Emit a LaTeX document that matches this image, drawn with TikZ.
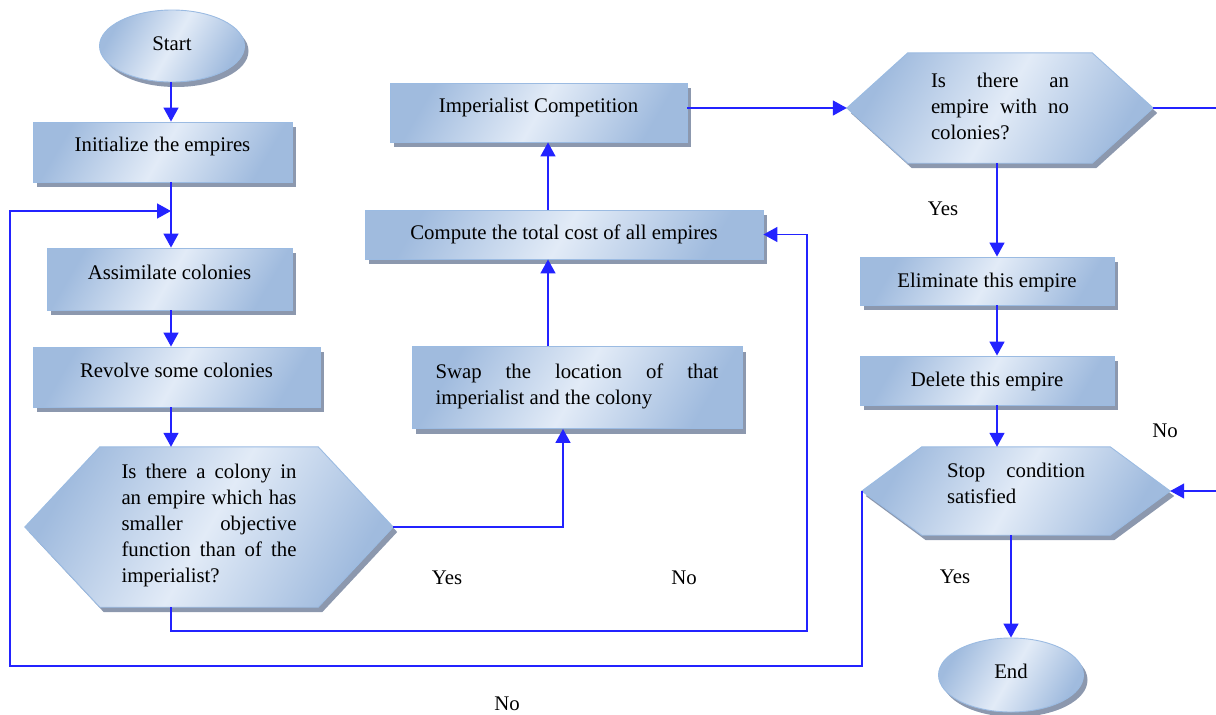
\documentclass[tikz,border=0pt]{standalone}
\usepackage{fontspec}
\setmainfont{Liberation Serif}
\usetikzlibrary{shapes.geometric,shadows,arrows.meta,calc,backgrounds}
\definecolor{lineblue}{RGB}{35,35,255}
\definecolor{bdark}{RGB}{160,187,222}
\definecolor{blight}{RGB}{226,235,247}
\definecolor{bborder}{RGB}{155,187,226}
\definecolor{shadowc}{RGB}{140,152,174}
\newcommand{\tb}[3]{\raisebox{#1pt}[0pt][0pt]{\parbox[c]{#2pt}{#3}}}
\newcommand{\jl}[1]{\makebox[\linewidth][s]{\strut #1}}
\tikzset{
  conn/.style={draw=lineblue, line width=1.6pt},
  arr/.style={conn, -{Triangle[length=14pt,width=15pt]}},
  bluefill/.style={left color=bdark, right color=bdark, middle color=blight, shading angle=60,
     draw=bborder, line width=0.9pt,
     drop shadow={shadow xshift=4pt, shadow yshift=-5pt, fill=shadowc, opacity=1}},
  stepbox/.style={rectangle, bluefill, inner sep=0pt},
  oval/.style={ellipse, bluefill, inner sep=0pt},
  hexnode/.style={rectangle, draw=none, inner sep=0pt},
  lbl/.style={anchor=base, inner sep=0pt},
  every node/.style={font=\fontsize{20.8}{26}\selectfont}
}
\newcommand{\hexpath}[2]{%
  \path[bluefill] ($(#1.north west)+(#2,0)$) -- ($(#1.north east)+(-#2,0)$) -- (#1.east)
    -- ($(#1.south east)+(-#2,0)$) -- ($(#1.south west)+(#2,0)$) -- (#1.west) -- cycle;}
\begin{document}
\begin{tikzpicture}[x=1pt,y=-1pt]
\useasboundingbox (0,0) rectangle (1216,715);

% nodes
\node[oval, minimum width=145pt, minimum height=72pt] (start) at (172,46)
  {\tb{-4}{100}{\centering\strut Start}};
\node[stepbox, minimum width=259pt, minimum height=60pt] (init) at (162.5,152)
  {\tb{1}{240}{\centering\strut Initialize the empires}};
\node[stepbox, minimum width=245pt, minimum height=62pt] (assim) at (169.5,279)
  {\tb{0}{230}{\centering\strut Assimilate colonies}};
\node[stepbox, minimum width=287pt, minimum height=60pt] (revolve) at (176.5,377)
  {\tb{0}{270}{\centering\strut Revolve some colonies}};
\node[hexnode, minimum width=368pt, minimum height=160pt] (hex1) at (209,527)
  {\tb{-3}{175}{\jl{Is there a colony in}\\\jl{an empire which has}\\\jl{smaller objective}\\\jl{function than of the}\\\strut imperialist?}};
\node[stepbox, minimum width=330pt, minimum height=82pt] (swap) at (577,387.5)
  {\tb{-3.5}{283}{\jl{Swap the location of that}\\\strut imperialist and the colony}};
\node[stepbox, minimum width=398pt, minimum height=49pt] (compute) at (564,234.5)
  {\tb{-5}{380}{\centering\strut Compute the total cost of all empires}};
\node[stepbox, minimum width=297pt, minimum height=59pt] (imp) at (538.5,112.5)
  {\tb{0}{280}{\centering\strut Imperialist Competition}};
\node[hexnode, minimum width=306pt, minimum height=110pt] (hex2) at (1000,108)
  {\tb{-5.5}{138}{\jl{Is there an}\\\jl{empire with no}\\\strut colonies?}};
\node[stepbox, minimum width=254pt, minimum height=48pt] (elim) at (987,281)
  {\tb{-6}{240}{\centering\strut Eliminate this empire}};
\node[stepbox, minimum width=254pt, minimum height=49pt] (del) at (987,380.5)
  {\tb{-5.5}{240}{\centering\strut Delete this empire}};
\node[hexnode, minimum width=308pt, minimum height=88pt] (stop) at (1016,491)
  {\tb{1}{138}{\jl{Stop condition}\\\strut satisfied}};
\node[oval, minimum width=145pt, minimum height=74pt] (end) at (1011,675)
  {\tb{-3}{100}{\centering\strut End}};

\begin{pgfonlayer}{background}
\hexpath{hex1}{75}
\hexpath{hex2}{61}
\hexpath{stop}{60}
\end{pgfonlayer}

% labels
\node[lbl] (y1) at (943,215) {Yes};
\node[lbl] (n1) at (1165,437) {No};
\node[lbl] (y2) at (955,583) {Yes};
\node[lbl] (y3) at (447,584) {Yes};
\node[lbl] (n2) at (684,584) {No};
\node[lbl] (n3) at (507,710) {No};

% helper coordinates
\coordinate (colA) at (171,0);
\coordinate (colB) at (997,0);
\coordinate (colS) at (563,0);
\coordinate (colC) at (548,0);
\coordinate (loopin) at (171,211);
\coordinate (loopL) at (10,666);
\coordinate (loopR) at (807,631);
\coordinate (rightX) at (1216,0);

% connectors
\draw[arr] (start.south -| colA) -- (init.north -| colA);
\draw[arr] (init.south -| colA) -- (assim.north -| colA);
\draw[arr] (assim.south -| colA) -- (revolve.north -| colA);
\draw[arr] (revolve.south -| colA) -- (hex1.north -| colA);
\draw[arr] (hex1.east) -| (swap.south -| colS);
\draw[arr] (swap.north -| colC) -- (compute.south -| colC);
\draw[arr] (compute.north -| colC) -- (imp.south -| colC);
\draw[arr] (imp.east |- hex2.west) -- (hex2.west);
\draw[conn, line width=1.2pt] (hex2.east) -- (hex2.east -| rightX);
\draw[arr, line width=1.2pt] (stop.east -| rightX) -- (stop.east);
\draw[arr] (hex2.south -| colB) -- (elim.north -| colB);
\draw[arr] (elim.south -| colB) -- (del.north -| colB);
\draw[arr] (del.south -| colB) -- (stop.north -| colB);
\draw[arr] (stop.south -| end.north) -- (end.north);
\draw[arr] (hex1.south -| colA) |- (loopR) |- (compute.east);
\draw[arr] (stop.west) |- (loopL) |- (loopin);
\end{tikzpicture}
\end{document}
